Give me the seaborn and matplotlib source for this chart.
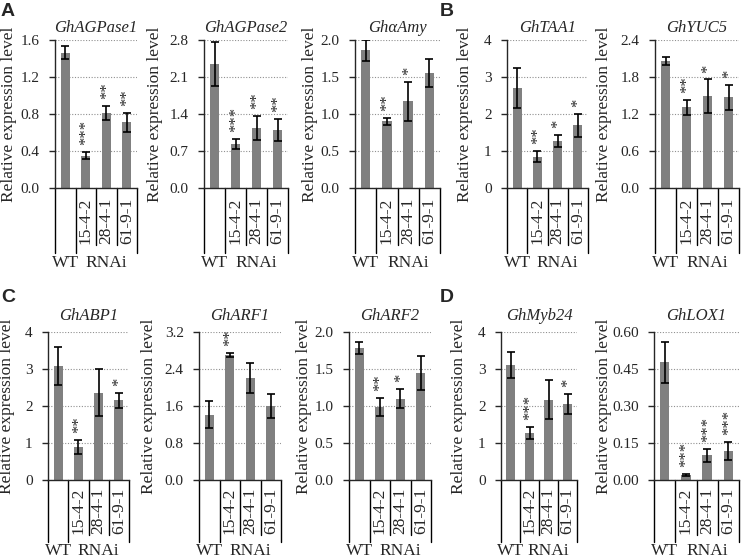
import numpy as np
import pandas as pd
import matplotlib
matplotlib.use('Agg')
import matplotlib.pyplot as plt
import seaborn as sns


# Lines measured in every panel
lines = ['WT', '15-4-2', '28-4-1', '61-9-1']
groups = ['WT', 'RNAi']

# Relative expression levels (mean, error) and significance marks
agpase1_mean = [1.46, 0.35, 0.81, 0.71]
agpase1_err = [0.07, 0.04, 0.08, 0.10]
agpase1_sig = ['', '***', '**', '**']

agpase2_mean = [2.35, 0.83, 1.14, 1.09]
agpase2_err = [0.42, 0.09, 0.23, 0.21]
agpase2_sig = ['', '***', '**', '**']

amy_mean = [1.86, 0.90, 1.17, 1.56]
amy_err = [0.14, 0.05, 0.26, 0.19]
amy_sig = ['', '**', '*', '']

taa1_mean = [2.71, 0.85, 1.27, 1.69]
taa1_err = [0.54, 0.15, 0.17, 0.30]
taa1_sig = ['', '**', '*', '*']

yuc5_mean = [2.06, 1.31, 1.49, 1.47]
yuc5_err = [0.06, 0.12, 0.27, 0.20]
yuc5_sig = ['', '**', '*', '*']

abp1_mean = [3.09, 0.89, 2.36, 2.15]
abp1_err = [0.51, 0.20, 0.63, 0.20]
abp1_sig = ['', '**', '', '*']

arf1_mean = [1.41, 2.70, 2.20, 1.60]
arf1_err = [0.29, 0.05, 0.32, 0.27]
arf1_sig = ['', '**', '', '']

arf2_mean = [1.78, 0.99, 1.10, 1.44]
arf2_err = [0.08, 0.12, 0.13, 0.23]
arf2_sig = ['', '**', '*', '']

myb24_mean = [3.12, 1.28, 2.17, 2.05]
myb24_err = [0.35, 0.16, 0.52, 0.27]
myb24_sig = ['', '***', '', '*']

lox1_mean = [0.478, 0.020, 0.100, 0.118]
lox1_err = [0.083, 0.003, 0.027, 0.038]
lox1_sig = ['', '***', '***', '***']


sns.set_style('ticks')
plt.rcParams['font.family'] = ['Liberation Serif', 'DejaVu Serif']
plt.rcParams['axes.linewidth'] = 1.0

W, H = 741, 559
fig = plt.figure(figsize=(W / 100, H / 100), dpi=100)

BAR_COLOR = '#808080'
FS = 11


def add_axes_px(left, right, top, bottom):
    return fig.add_axes([left / W, 1 - bottom / H, (right - left) / W, (bottom - top) / H])


def draw_panel(ax, gene, mean, err, sig, ymax, step, fmt, width_px, label_gap, row):
    df = pd.DataFrame({'line': lines, 'value': mean})
    sns.barplot(data=df, x='line', y='value', color=BAR_COLOR, saturation=1,
                width=0.44, linewidth=0, ax=ax, zorder=2)
    ax.errorbar(range(len(lines)), mean, yerr=err, fmt='none', ecolor='black',
                elinewidth=1.2, capsize=2.8, capthick=1.2, zorder=3)

    for i, s in enumerate(sig):
        if s:
            ax.annotate(s, xy=(i, mean[i] + err[i]), xytext=(0.5, 5),
                        textcoords='offset points', rotation=90,
                        ha='center', va='bottom', fontsize=12)

    ticks = np.arange(0, ymax + step / 2, step)
    ax.set_ylim(0, ymax)
    ax.set_xlim(-0.5, len(lines) - 0.5)
    ax.set_yticks(ticks)
    ax.set_yticklabels([fmt.format(t) for t in ticks], fontsize=FS)
    ax.tick_params(axis='y', length=4, width=1, pad=7, direction='out')
    ax.set_xticks([])
    ax.set_xlabel('')
    ax.grid(axis='y', linestyle=(0, (1, 1.5)), color='#909090', linewidth=0.8)
    ax.set_axisbelow(True)
    sns.despine(ax=ax)

    ax.set_title(gene, fontstyle='italic', fontsize=12, pad=row['title_pad'])
    ax.set_ylabel('Relative expression level', fontsize=12.5)
    ax.yaxis.set_label_coords(-label_gap / width_px, 0.5)

    # two-level category axis drawn under the plot
    h_px = row['bottom'] - row['top']
    long_d = row['long'] / h_px
    short_d = row['short'] / h_px
    tr = ax.get_xaxis_transform()
    bounds = [-0.5, 0.5, 1.5, 2.5, 3.5]
    depths = [long_d, long_d, short_d, short_d, long_d]
    for xb, d in zip(bounds, depths):
        ax.plot([xb, xb], [0, -d], transform=tr, color='black', lw=1, clip_on=False)
    for i, name in enumerate(lines[1:], start=1):
        ax.text(i, -short_d + 1 / h_px, name, rotation=90, ha='center', va='bottom',
                transform=tr, fontsize=12.5)
    ty = -row['group'] / h_px
    ax.text(0, ty, groups[0], ha='center', va='top', transform=tr, fontsize=12.5)
    ax.text(2, ty, groups[1], ha='center', va='top', transform=tr, fontsize=12.5)


top_row = {'top': 40, 'bottom': 188, 'long': 65, 'short': 57, 'group': 67, 'title_pad': 6}
bottom_row = {'top': 332, 'bottom': 480, 'long': 62, 'short': 55, 'group': 63, 'title_pad': 9}

panels = [
    ('GhAGPase1', agpase1_mean, agpase1_err, agpase1_sig, 1.6, 0.4, '{:.1f}', (55, 137), 38, top_row),
    ('GhAGPase2', agpase2_mean, agpase2_err, agpase2_sig, 2.8, 0.7, '{:.1f}', (204, 288), 41, top_row),
    ('Gh\u03b1Amy', amy_mean, amy_err, amy_sig, 2.0, 0.5, '{:.1f}', (355, 440), 37, top_row),
    ('GhTAA1', taa1_mean, taa1_err, taa1_sig, 4, 1, '{:.0f}', (507, 588), 34, top_row),
    ('GhYUC5', yuc5_mean, yuc5_err, yuc5_sig, 2.4, 0.6, '{:.1f}', (655, 739), 43, top_row),
    ('GhABP1', abp1_mean, abp1_err, abp1_sig, 4, 1, '{:.0f}', (48, 129), 33, bottom_row),
    ('GhARF1', arf1_mean, arf1_err, arf1_sig, 3.2, 0.8, '{:.1f}', (199, 281), 42, bottom_row),
    ('GhARF2', arf2_mean, arf2_err, arf2_sig, 2.0, 0.5, '{:.1f}', (349, 431), 37, bottom_row),
    ('GhMyb24', myb24_mean, myb24_err, myb24_sig, 4, 1, '{:.0f}', (501, 577), 34, bottom_row),
    ('GhLOX1', lox1_mean, lox1_err, lox1_sig, 0.6, 0.15, '{:.2f}', (654, 739), 42, bottom_row),
]

for gene, mean, err, sig, ymax, step, fmt, (l, r), gap, row in panels:
    ax = add_axes_px(l, r, row['top'], row['bottom'])
    draw_panel(ax, gene, mean, err, sig, ymax, step, fmt, r - l, gap, row)

# panel letters
for letter, (px, py) in zip('ABCD', [(1, 3), (440, 3), (1, 289), (440, 289)]):
    fig.text(px / W, 1 - py / H, letter, fontsize=14, fontweight='bold',
             family='Liberation Sans', ha='left', va='top')

fig.savefig('out.png', dpi=100)
